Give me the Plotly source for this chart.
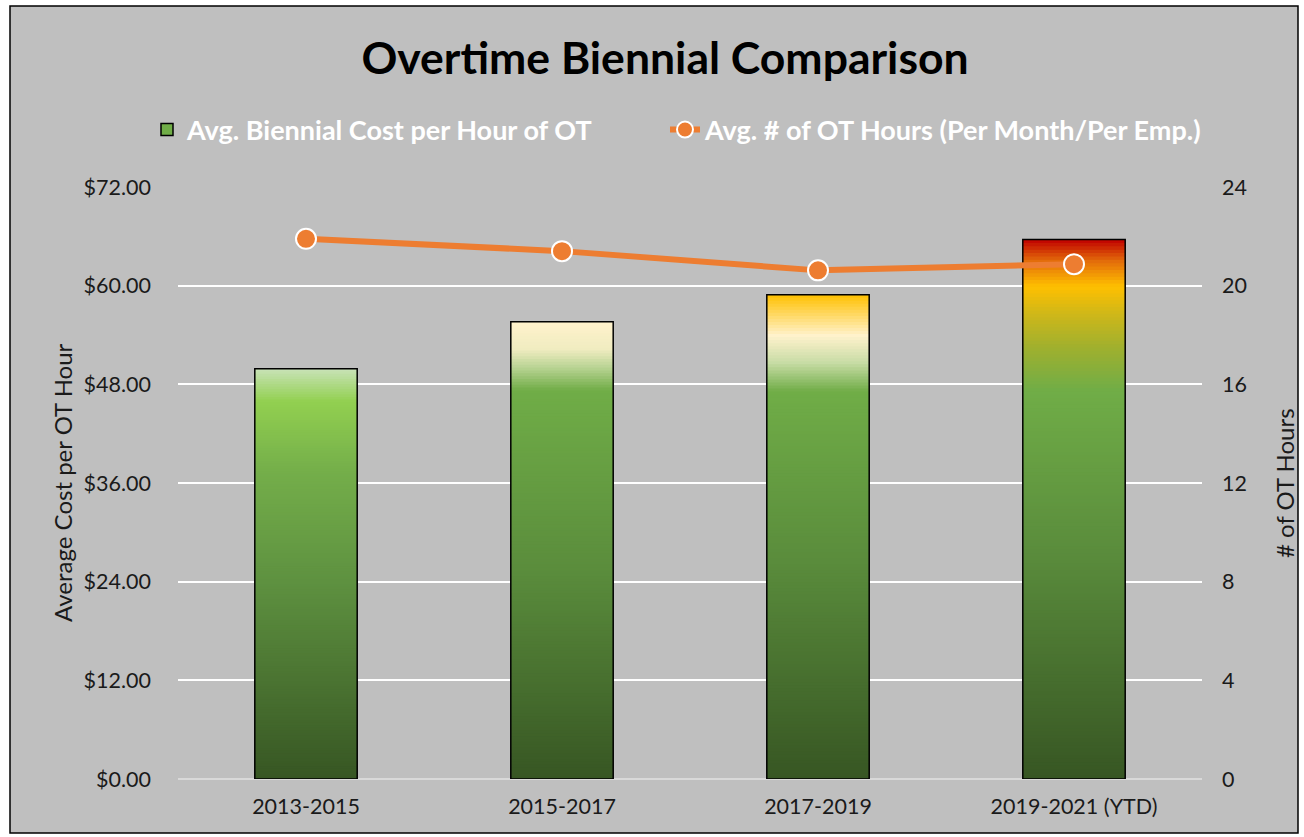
import plotly.graph_objects as go

# ---- data ----
periods = ["2013-2015", "2015-2017", "2017-2019", "2019-2021 (YTD)"]
cost_per_hour = [49.9, 55.6, 58.9, 65.6]
ot_hours = [21.9, 21.4, 20.62, 20.87]

bar_name = "Avg. Biennial Cost per Hour of OT"
line_name = "Avg. # of OT Hours (Per Month/Per Emp.)"

# gradient stops (fraction of bar height, colour) per bar
gradients = [
    [(0.0, "#375623"), (0.48, "#5e9140"), (0.75, "#74ae4a"), (0.92, "#92d050"), (1.0, "#c9e3b8")],
    [(0.0, "#375623"), (0.45, "#5a8c3c"), (0.85, "#70ad47"), (0.90, "#b9d393"), (0.94, "#f0ecc0"), (1.0, "#fff2cc")],
    [(0.0, "#375623"), (0.45, "#5a8c3c"), (0.80, "#70ad47"), (0.86, "#c8dca6"), (0.915, "#fff2cc"), (1.0, "#ffc000")],
    [(0.0, "#375623"), (0.42, "#5a8c3c"), (0.72, "#70ad47"), (0.80, "#a0b02e"), (0.86, "#cdb71a"), (0.913, "#ffc000"), (0.96, "#e36c0a"), (1.0, "#c00000")],
]

FONT = "Lato"
W, H = 1304, 837
L, R, T, B = 178, 102, 187, 58


def hex2rgb(h):
    h = h.lstrip("#")
    return tuple(int(h[i:i + 2], 16) for i in (0, 2, 4))


def interp(stops, f):
    for (f0, c0), (f1, c1) in zip(stops[:-1], stops[1:]):
        if f0 <= f <= f1:
            t = 0 if f1 == f0 else (f - f0) / (f1 - f0)
            a, b = hex2rgb(c0), hex2rgb(c1)
            return "rgb(%d,%d,%d)" % tuple(round(a[i] + (b[i] - a[i]) * t) for i in range(3))
    return stops[-1][1]


fig = go.Figure()

N = 160
for k in range(N):
    f = (k + 0.5) / N
    bases = [v * k / N for v in cost_per_hour]
    heights = [v * (min(k + 2, N) - k) / N for v in cost_per_hour]
    colors = [interp(g, f) for g in gradients]
    fig.add_trace(go.Bar(
        x=periods, y=heights, base=bases, width=0.4,
        marker=dict(color=colors, line=dict(width=0)),
        showlegend=False, hoverinfo="skip", yaxis="y"))

# outline of the bars
fig.add_trace(go.Bar(
    x=periods, y=cost_per_hour, width=0.4,
    marker=dict(color="rgba(0,0,0,0)", line=dict(color="black", width=1.5)),
    showlegend=False, hoverinfo="skip", yaxis="y"))

# legend entry for bars
fig.add_trace(go.Bar(
    x=periods, y=[None] * len(periods), name=bar_name, width=0.4,
    marker=dict(color="#70ad47", line=dict(color="black", width=1.5)),
    showlegend=True, hoverinfo="skip", yaxis="y", legend="legend"))

fig.add_trace(go.Scatter(
    x=periods, y=ot_hours, name=line_name, mode="lines+markers",
    line=dict(color="#ed7d31", width=6),
    marker=dict(size=20, color="#ed7d31", line=dict(color="white", width=2)),
    yaxis="y2", hoverinfo="skip", legend="legend2"))


def px_x(px):
    return (px - L) / (W - L - R)


def px_y(py):
    return (H - B - py) / (H - T - B)


fig.add_shape(type="rect", xref="paper", yref="paper",
              x0=px_x(10), x1=px_x(1298), y0=px_y(833), y1=px_y(6),
              fillcolor="#bfbfbf", line=dict(color="black", width=1.5), layer="below")

tickfont = dict(family=FONT, size=21.5, color="#1a1a1a")
legfont = dict(family=FONT, size=27, color="white", weight="bold")

fig.update_layout(
    width=W, height=H,
    margin=dict(l=L, r=R, t=T, b=B),
    paper_bgcolor="white", plot_bgcolor="rgba(0,0,0,0)",
    barmode="overlay",
    title=dict(text="<b>Overtime Biennial Comparison</b>", x=665 / W, xanchor="center",
               y=1 - 58 / H, yanchor="middle", font=dict(family=FONT, size=44.5, color="black")),
    legend=dict(orientation="h", xref="container", yref="container", x=(189 - 42) / W, xanchor="left",
                y=1 - 130 / H, yanchor="middle", bgcolor="rgba(0,0,0,0)", font=legfont),
    legend2=dict(orientation="h", xref="container", yref="container", x=(707 - 42) / W, xanchor="left",
                 y=1 - 130 / H, yanchor="middle", bgcolor="rgba(0,0,0,0)", font=legfont),
    xaxis=dict(type="category", range=[-0.5, 3.5], showgrid=False, showline=False,
               tickfont=tickfont, ticks="", ticklabelstandoff=12),
    yaxis=dict(range=[0, 72], dtick=12, tickformat="$,.2f", showgrid=True, gridcolor="white",
               gridwidth=2, zeroline=True, zerolinecolor="#d9d9d9", zerolinewidth=2,
               tickfont=tickfont, ticks="", ticklabelstandoff=26, showline=False),
    yaxis2=dict(range=[0, 24], dtick=4, overlaying="y", side="right", showgrid=False,
                zeroline=False, tickfont=tickfont, ticks="", ticklabelstandoff=19, showline=False),
    annotations=[
        dict(text="Average Cost per OT Hour", xref="paper", yref="paper", x=px_x(62), y=px_y(483),
             textangle=-90, showarrow=False, xanchor="center", yanchor="middle",
             font=dict(family=FONT, size=24, color="#1a1a1a")),
        dict(text="# of OT Hours", xref="paper", yref="paper", x=px_x(1284), y=px_y(483),
             textangle=-90, showarrow=False, xanchor="center", yanchor="middle",
             font=dict(family=FONT, size=24, color="#1a1a1a")),
    ],
)

fig.write_html("out.html", config={"displayModeBar": False},
               post_script="document.body.style.margin='0';document.body.style.overflow='hidden';")
